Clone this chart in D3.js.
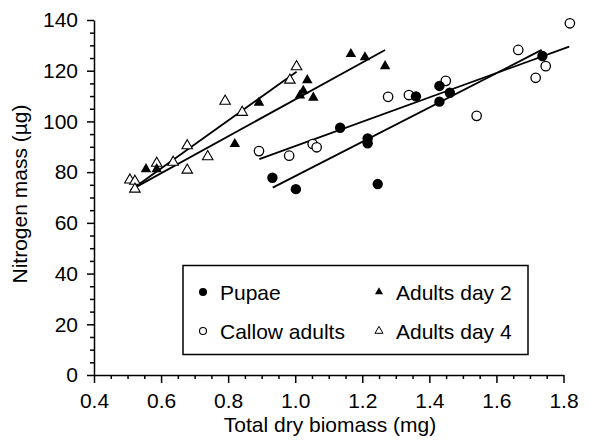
<!DOCTYPE html>
<html>
<head>
<meta charset="utf-8">
<script src="https://cdn.jsdelivr.net/npm/d3@7"></script>
<style>
  body { margin: 0; background: #fff; }
  svg text { font-family: "Liberation Sans", Arial, Helvetica, sans-serif; fill: #000; }
</style>
</head>
<body>
<svg id="chart" width="590" height="441"></svg>
<script>
// datos: [biomasa mg, nitrogeno ug]
const pupae = [
  [0.932, 77.8], [1.002, 73.3], [1.134, 97.5], [1.216, 93.3], [1.216, 91.4],
  [1.246, 75.3], [1.360, 109.9], [1.430, 114.0], [1.430, 107.8], [1.461, 111.3],
  [1.737, 125.8]
];
const callow = [
  [0.892, 88.3], [0.982, 86.5], [1.052, 91.1], [1.064, 89.8], [1.277, 109.7],
  [1.339, 110.4], [1.449, 116.0], [1.541, 102.2], [1.665, 128.2], [1.717, 117.2],
  [1.747, 121.8], [1.819, 138.7]
];
const adultsDay2 = [
  [0.555, 81.2], [0.587, 81.2], [0.820, 91.1], [0.892, 107.4], [1.014, 110.2],
  [1.024, 112.1], [1.036, 116.3], [1.054, 109.4], [1.166, 126.6], [1.208, 125.3],
  [1.268, 121.8]
];
const adultsDay4 = [
  [0.507, 76.9], [0.522, 76.4], [0.522, 73.3], [0.587, 83.5], [0.636, 83.9],
  [0.678, 80.8], [0.678, 90.4], [0.739, 86.1], [0.791, 108.0], [0.842, 103.6],
  [0.984, 116.3], [1.004, 121.6]
];

// rectas de regresion (extremos)
const fitPupae = [[0.933, 73.9], [1.735, 128.2]];
const fitCallow = [[0.893, 85.1], [1.817, 129.5]];
const fitDay2 = [[0.51, 73.0], [1.268, 128.2]];
const fitDay4 = [[0.51, 73.0], [1.004, 119.6]];

const xTicks = [0.4, 0.6, 0.8, 1.0, 1.2, 1.4, 1.6, 1.8];
const yTicks = [0, 20, 40, 60, 80, 100, 120, 140];
const legendLabels = ["Pupae", "Callow adults", "Adults day 2", "Adults day 4"];

const svg = d3.select("#chart");

const x = d3.scaleLinear().domain([0.4, 1.8]).range([94, 563.5]);
const y = d3.scaleLinear().domain([0, 140]).range([375, 20]);

const fontSize = "21px";

// ticks menores
const xMinor = d3.range(0.4, 1.8001, 0.05).filter(v => !xTicks.some(t => Math.abs(t - v) < 1e-6));
const yMinor = d3.range(0, 140.001, 5).filter(v => v % 20 !== 0);

// Eje X
svg.append("g")
    .attr("transform", `translate(0,${y(0)})`)
    .call(d3.axisBottom(x).tickValues(xMinor).tickSize(4).tickSizeOuter(0).tickFormat(""))
    .call(g => g.select(".domain").remove());
svg.append("g")
    .attr("transform", `translate(0,${y(0)})`)
    .call(d3.axisBottom(x).tickValues(xTicks).tickSize(8).tickPadding(10).tickSizeOuter(0)
        .tickFormat(d3.format(".1f")))
    .style("font-size", fontSize);

// Eje Y
svg.append("g")
    .attr("transform", `translate(${x(0.4)},0)`)
    .call(d3.axisLeft(y).tickValues(yMinor).tickSize(4).tickSizeOuter(0).tickFormat(""))
    .call(g => g.select(".domain").remove());
svg.append("g")
    .attr("transform", `translate(${x(0.4)},0)`)
    .call(d3.axisLeft(y).tickValues(yTicks).tickSize(7).tickPadding(9).tickSizeOuter(0))
    .style("font-size", fontSize);

svg.selectAll(".tick line, .domain").attr("stroke", "#000").attr("stroke-width", 1.5);
svg.selectAll(".tick text").attr("font-family", null).style("fill", "#000");

// titulos de ejes
svg.append("text")
    .attr("x", 330)
    .attr("y", 432)
    .attr("text-anchor", "middle")
    .style("font-size", fontSize)
    .text("Total dry biomass (mg)");

svg.append("text")
    .attr("transform", "translate(27,194) rotate(-90)")
    .attr("text-anchor", "middle")
    .style("font-size", fontSize)
    .text("Nitrogen mass (\u00b5g)");

// lineas de ajuste
const line = d3.line().x(d => x(d[0])).y(d => y(d[1]));
[fitDay4, fitDay2, fitCallow, fitPupae].forEach(f => {
    svg.append("path")
        .attr("d", line(f))
        .attr("fill", "none")
        .attr("stroke", "#000")
        .attr("stroke-width", 1.8);
});

const tri = d3.symbol().type(d3.symbolTriangle).size(48);
const triSmall = d3.symbol().type(d3.symbolTriangle).size(28);

function drawCircles(data, filled) {
    svg.append("g").selectAll("circle")
        .data(data)
        .join("circle")
        .attr("cx", d => x(d[0]))
        .attr("cy", d => y(d[1]))
        .attr("r", filled ? 5.2 : 4.7)
        .attr("fill", filled ? "#000" : "#fff")
        .attr("stroke", "#000")
        .attr("stroke-width", filled ? 0 : 1.3);
}

function drawTriangles(data, filled) {
    svg.append("g").selectAll("path")
        .data(data)
        .join("path")
        .attr("d", tri)
        .attr("transform", d => `translate(${x(d[0])},${y(d[1])})`)
        .attr("fill", filled ? "#000" : "#fff")
        .attr("stroke", "#000")
        .attr("stroke-width", filled ? 0 : 1.1);
}

drawTriangles(adultsDay4, false);
drawTriangles(adultsDay2, true);
drawCircles(callow, false);
drawCircles(pupae, true);

// Leyenda
svg.append("rect")
    .attr("x", 183).attr("y", 265.5)
    .attr("width", 345).attr("height", 89)
    .attr("fill", "#fff")
    .attr("stroke", "#000")
    .attr("stroke-width", 1.5);

const legendItems = [
    { label: legendLabels[0], shape: "circle", filled: true, lx: 203, ly: 292 },
    { label: legendLabels[1], shape: "circle", filled: false, lx: 203, ly: 331 },
    { label: legendLabels[2], shape: "tri", filled: true, lx: 379, ly: 292 },
    { label: legendLabels[3], shape: "tri", filled: false, lx: 379, ly: 331 }
];

legendItems.forEach(it => {
    if (it.shape === "circle") {
        svg.append("circle")
            .attr("cx", it.lx).attr("cy", it.ly)
            .attr("r", it.filled ? 4 : 3.5)
            .attr("fill", it.filled ? "#000" : "#fff")
            .attr("stroke", "#000")
            .attr("stroke-width", it.filled ? 0 : 1.1);
    } else {
        svg.append("path")
            .attr("d", triSmall)
            .attr("transform", `translate(${it.lx},${it.ly})`)
            .attr("fill", it.filled ? "#000" : "#fff")
            .attr("stroke", "#000")
            .attr("stroke-width", it.filled ? 0 : 1);
    }
    svg.append("text")
        .attr("x", it.lx + 17)
        .attr("y", it.ly + 7.5)
        .style("font-size", fontSize)
        .text(it.label);
});
</script>
</body>
</html>
